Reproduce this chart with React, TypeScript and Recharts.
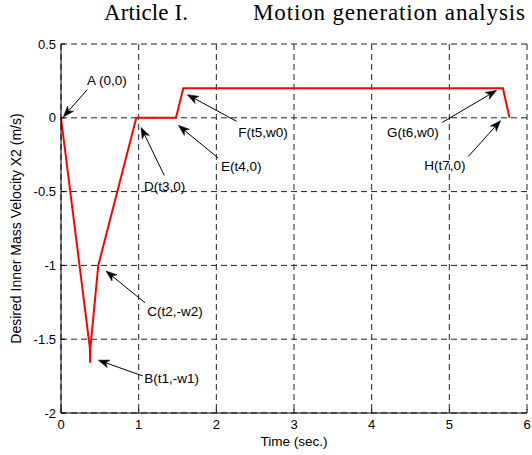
import React from 'react';
import {
  LineChart,
  Line,
  XAxis,
  YAxis,
  CartesianGrid,
  ReferenceLine,
  ReferenceDot,
} from 'recharts';

// desired inner mass velocity profile, breakpoints A..H
const TIME = [0, 0.372, 0.375, 0.378, 0.48, 0.97, 1.48, 1.575, 5.69, 5.775];
const VELOCITY = [0, -1.56, -1.66, -1.56, -1.0, 0, 0, 0.2, 0.2, 0];

const X_TICKS = [0, 1, 2, 3, 4, 5, 6];
const Y_TICKS = [-2, -1.5, -1, -0.5, 0, 0.5];

// callouts: label, where the text starts, arrow tail and arrow tip (data units)
const ANNOTATIONS = [
  { text: 'A (0,0)', at: [0.335, 0.225], tail: [0.339, 0.191], tip: [0.03, 0.006] },
  { text: 'B(t1,-w1)', at: [1.073, -1.798], tail: [1.053, -1.749], tip: [0.48, -1.642] },
  { text: 'C(t2,-w2)', at: [1.111, -1.34], tail: [1.082, -1.253], tip: [0.579, -1.038] },
  { text: 'D(t3,0)', at: [1.069, -0.495], tail: [1.33, -0.391], tip: [1.03, -0.065] },
  { text: 'E(t4,0)', at: [2.06, -0.359], tail: [2.025, -0.273], tip: [1.511, -0.051] },
  { text: 'F(t5,w0)', at: [2.283, -0.128], tail: [2.262, -0.024], tip: [1.626, 0.157] },
  { text: 'G(t6,w0)', at: [4.198, -0.128], tail: [4.909, -0.031], tip: [5.61, 0.186] },
  { text: 'H(t7,0)', at: [4.678, -0.355], tail: [5.244, -0.262], tip: [5.661, -0.019] },
];

const data = TIME.map((t, i) => ({ t, v: VELOCITY[i] }));

const FONT = '"Liberation Sans", Arial, Helvetica, sans-serif';
const SERIF = '"Liberation Serif", "Times New Roman", serif';

const Arrow = (props: any) => {
  const { x1, y1, x2, y2 } = props;
  const dx = x2 - x1;
  const dy = y2 - y1;
  const len = Math.sqrt(dx * dx + dy * dy) || 1;
  const ux = dx / len;
  const uy = dy / len;
  const headLen = 11;
  const halfW = 4;
  const notch = 3;
  const bx = x2 - ux * headLen;
  const by = y2 - uy * headLen;
  const nx = x2 - ux * (headLen - notch);
  const ny = y2 - uy * (headLen - notch);
  const pts = [
    [x2, y2],
    [bx - uy * halfW, by + ux * halfW],
    [nx, ny],
    [bx + uy * halfW, by - ux * halfW],
  ]
    .map((p) => p.join(','))
    .join(' ');
  return (
    <g>
      <line x1={x1} y1={y1} x2={nx} y2={ny} stroke="#000" strokeWidth={1} />
      <polygon points={pts} fill="#000" stroke="#000" strokeWidth={0.5} />
    </g>
  );
};

const calloutText = (text: string) => (props: any) => (
  <text x={props.cx} y={props.cy} fontFamily={FONT} fontSize={13.5} fill="#000">
    {text}
  </text>
);

export default function App() {
  return (
    <div style={{ position: 'absolute', left: 0, top: 0, width: 532, height: 455, background: '#fff' }}>
      <svg width={532} height={40} style={{ position: 'absolute', left: 0, top: 0 }}>
        <text x={104} y={20} fontFamily={SERIF} fontSize={23} textLength={84} fill="#000">
          Article I.
        </text>
        <text x={253} y={20} fontFamily={SERIF} fontSize={23} textLength={272} fill="#000">
          Motion generation analysis
        </text>
      </svg>
      <LineChart width={532} height={455} data={data} margin={{ top: 44, right: 5, bottom: 0, left: 0 }}>
        <CartesianGrid stroke="#222" strokeDasharray="6 4" />
        <XAxis
          dataKey="t"
          type="number"
          domain={[0, 6]}
          ticks={X_TICKS}
          height={42}
          tickSize={-4}
          tickMargin={11}
          stroke="#000"
          tick={{ fill: '#000', fontSize: 13, fontFamily: FONT }}
          label={{ value: 'Time (sec.)', position: 'insideBottom', offset: 9, fill: '#000', fontSize: 13.5, fontFamily: FONT }}
        />
        <XAxis
          xAxisId="top"
          orientation="top"
          type="number"
          domain={[0, 6]}
          ticks={X_TICKS}
          height={0}
          tickSize={-4}
          tick={false}
          stroke="#000"
        />
        <YAxis
          type="number"
          domain={[-2, 0.5]}
          ticks={Y_TICKS}
          width={61}
          tickSize={-4}
          tickMargin={9}
          stroke="#000"
          tick={{ fill: '#000', fontSize: 13, fontFamily: FONT }}
          label={{
            content: (p: any) => {
              const vb = p.viewBox;
              return (
                <text
                  transform={`translate(${vb.x + 15.5},${vb.y + vb.height / 2}) rotate(-90)`}
                  textAnchor="middle"
                  dominantBaseline="central"
                  fontFamily={FONT}
                  fontSize={14}
                  fill="#000"
                >
                  Desired Inner Mass Velocity X2 (m/s)
                </text>
              );
            },
          }}
        />
        <YAxis
          yAxisId="right"
          orientation="right"
          type="number"
          domain={[-2, 0.5]}
          ticks={Y_TICKS}
          width={0}
          tickSize={-4}
          tick={false}
          stroke="#000"
        />
        <Line
          dataKey="v"
          type="linear"
          stroke="#ff0000"
          strokeWidth={2}
          dot={false}
          isAnimationActive={false}
        />
        {ANNOTATIONS.map((a) => (
          <ReferenceLine
            key={a.text + '-arrow'}
            segment={[
              { x: a.tail[0], y: a.tail[1] },
              { x: a.tip[0], y: a.tip[1] },
            ]}
            stroke="#000"
            shape={Arrow}
          />
        ))}
        {ANNOTATIONS.map((a) => (
          <ReferenceDot key={a.text} x={a.at[0]} y={a.at[1]} r={0} shape={calloutText(a.text)} />
        ))}
      </LineChart>
    </div>
  );
}
